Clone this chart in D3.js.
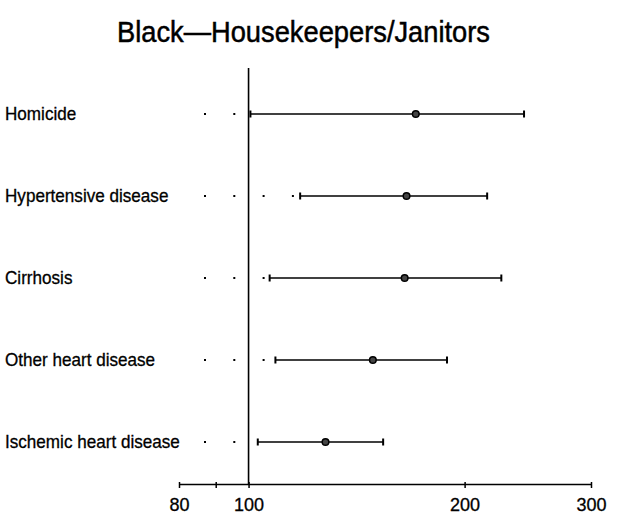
<!DOCTYPE html>
<html>
<head>
<meta charset="utf-8">
<script src="https://cdn.jsdelivr.net/npm/d3@7"></script>
<style>
  body { margin: 0; background: #fff; }
  svg { display: block; }
  text { font-family: "Liberation Sans", Arial, sans-serif; fill: #000; }
</style>
</head>
<body>
<div id="container"></div>
<script>
const causes = ['Homicide', 'Hypertensive disease', 'Cirrhosis', 'Other heart disease', 'Ischemic heart disease'];
const estimate = [171, 166, 165, 149, 128];
const lower = [100.6, 118, 107, 109, 103];
const upper = [242, 215, 225, 189, 154];
const tickValues = [80, 90, 100, 200, 300];
const tickLabels = ['80', '', '100', '200', '300'];

const data = causes.map((c, i) => ({ cause: c, est: estimate[i], lo: lower[i], hi: upper[i] }));

const width = 635;
const height = 516;
const axisY = 484;

const svg = d3.select('#container').append('svg')
  .attr('width', width)
  .attr('height', height);

const xScale = d3.scaleLog()
  .domain([80, 300])
  .range([179, 591]);

const yScale = d3.scalePoint()
  .domain(causes)
  .range([114, 442]);

// title, squeezed to look like the condensed face of the original
svg.append('text')
  .attr('x', 117)
  .attr('y', 42)
  .attr('textLength', 373)
  .attr('lengthAdjust', 'spacingAndGlyphs')
  .style('font-size', '30px')
  .style('stroke', '#000')
  .style('stroke-width', 0.5)
  .text('Black\u2014Housekeepers/Janitors');

// x axis
const xAxis = d3.axisBottom(xScale)
  .tickValues(tickValues)
  .tickFormat((d, i) => tickLabels[i])
  .tickSize(4)
  .tickSizeOuter(0)
  .tickPadding(10);

const axis = svg.append('g')
  .attr('transform', `translate(0, ${axisY})`)
  .call(xAxis);
axis.select('.domain').attr('stroke', '#000').attr('stroke-width', 1.6);
axis.selectAll('.tick line').attr('stroke', '#000').attr('stroke-width', 1.5).attr('y1', -2);
axis.selectAll('.tick text')
  .style('font-size', '18px')
  .style('font-family', '"Liberation Sans", Arial, sans-serif')
  .style('stroke', '#000')
  .style('stroke-width', 0.3)
  .attr('fill', '#000');

// reference line at 100
svg.append('line')
  .attr('x1', xScale(100)).attr('x2', xScale(100))
  .attr('y1', 68).attr('y2', axisY)
  .attr('stroke', '#000')
  .attr('stroke-width', 1.6);

const rows = svg.append('g').selectAll('g').data(data).enter().append('g')
  .attr('transform', d => `translate(0, ${yScale(d.cause)})`);

rows.append('text')
  .attr('transform', 'translate(5, 6) scale(0.95, 1)')
  .style('font-size', '18px')
  .style('stroke', '#000')
  .style('stroke-width', 0.3)
  .text(d => d.cause);

// leader dots
rows.each(function (d) {
  const stop = xScale(d.lo) - 4;
  const pts = [];
  for (let x = 205; x < stop; x += 29.3) pts.push(x);
  d3.select(this).selectAll('rect.dot').data(pts).enter().append('rect')
    .attr('class', 'dot')
    .attr('x', x => x - 1)
    .attr('y', -1)
    .attr('width', 2)
    .attr('height', 2)
    .attr('fill', '#000');
});

rows.append('line')
  .attr('x1', d => xScale(d.lo))
  .attr('x2', d => xScale(d.hi))
  .attr('stroke', '#000')
  .attr('stroke-width', 1.5);

rows.selectAll('line.cap')
  .data(d => [d.lo, d.hi]).enter().append('line')
  .attr('class', 'cap')
  .attr('x1', v => xScale(v)).attr('x2', v => xScale(v))
  .attr('y1', -3.5).attr('y2', 3.5)
  .attr('stroke', '#000')
  .attr('stroke-width', 2);

rows.append('circle')
  .attr('cx', d => xScale(d.est))
  .attr('r', 3.3)
  .attr('fill', '#444')
  .attr('stroke', '#000')
  .attr('stroke-width', 1.5);
</script>
</body>
</html>
